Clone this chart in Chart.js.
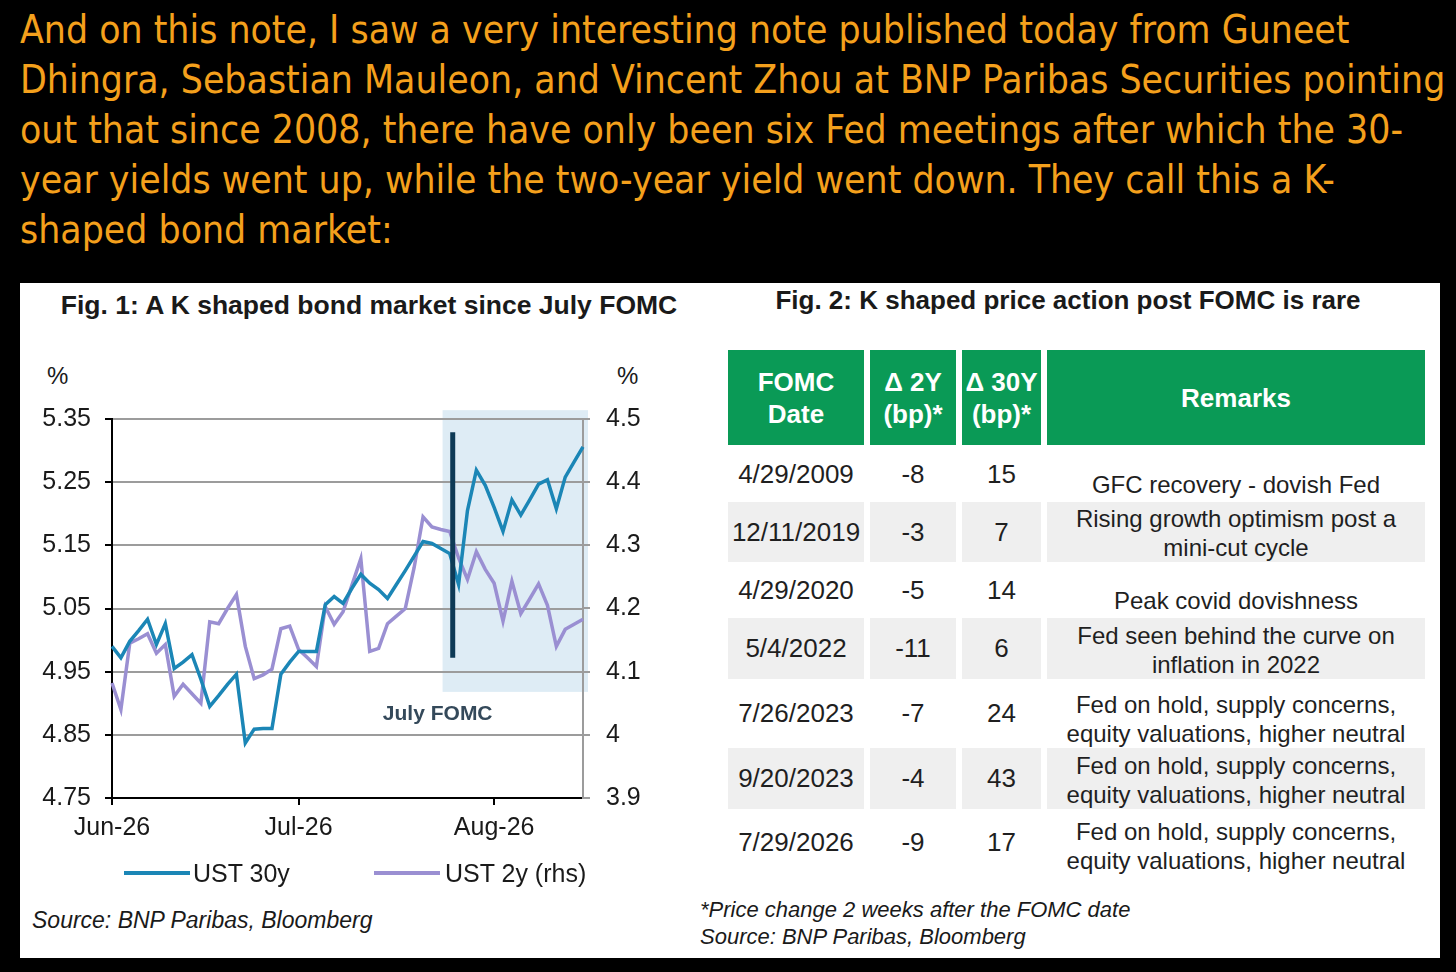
<!DOCTYPE html>
<html>
<head>
<meta charset="utf-8">
<script src="https://cdn.jsdelivr.net/npm/chart.js@4.4.1/dist/chart.umd.min.js"></script>
<style>
html,body{margin:0;padding:0;background:#000;width:1456px;height:972px;overflow:hidden;position:relative;}
#intro{position:absolute;left:20px;top:5px;color:#f4a01c;font-family:"DejaVu Sans Condensed","DejaVu Sans",sans-serif;font-size:36px;line-height:50px;white-space:nowrap;}
#intro span{display:block;}
#panel{position:absolute;left:20px;top:283px;width:1420px;height:675px;background:#fff;}
.t{position:absolute;font-family:"Liberation Sans",Arial,sans-serif;color:#1a1a1a;white-space:nowrap;}
.title{font-weight:bold;font-size:26px;transform:translateX(-50%);}
.cell{position:absolute;font-family:"Liberation Sans",Arial,sans-serif;display:flex;align-items:center;justify-content:center;text-align:center;color:#1f1f1f;box-sizing:border-box;}
.hdr{background:#0a9a56;color:#fff;font-weight:bold;font-size:26px;line-height:32px;}
.num{font-size:26px;}
.rem{font-size:24px;line-height:29px;flex-direction:column;justify-content:flex-end;}
.grey{background:#efefef;}
.leg{position:absolute;height:4px;}
</style>
</head>
<body>
<div id="intro">
<span id="l1">And on this note, I saw a very interesting note published today from Guneet</span>
<span>Dhingra, Sebastian Mauleon, and Vincent Zhou at BNP Paribas Securities pointing</span>
<span>out that since 2008, there have only been six Fed meetings after which the 30-</span>
<span>year yields went up, while the two-year yield went down. They call this a K-</span>
<span>shaped bond market:</span>
</div>
<div id="panel"></div>

<div class="t title" style="left:369px;top:290px;font-size:26.5px;">Fig. 1: A K shaped bond market since July FOMC</div>
<div class="t" style="left:47px;top:362px;font-size:24px;">%</div>
<div class="t" style="left:617px;top:362px;font-size:24px;">%</div>

<canvas id="c" width="660" height="530" style="position:absolute;left:20px;top:330px;width:660px;height:530px;"></canvas>

<div class="leg" style="left:124px;top:871px;width:66px;background:#1b86b6;"></div>
<div class="t" style="left:193px;top:859px;font-size:25px;">UST 30y</div>
<div class="leg" style="left:374px;top:871px;width:66px;background:#9a8fd2;"></div>
<div class="t" style="left:445px;top:859px;font-size:25px;">UST 2y (rhs)</div>
<div class="t" style="left:32px;top:907px;font-size:23px;font-style:italic;">Source: BNP Paribas, Bloomberg</div>

<div class="t title" style="left:1068px;top:285px;">Fig. 2: K shaped price action post FOMC is rare</div>
<div id="table"></div>
<div class="t" style="left:700px;top:896px;font-size:22px;font-style:italic;line-height:27px;">*Price change 2 weeks after the FOMC date<br>Source: BNP Paribas, Bloomberg</div>

<script>
// ---------------- Fig. 1 data ----------------
const tradeDates = [
  '2026-06-01','2026-06-02','2026-06-03','2026-06-04','2026-06-05','2026-06-08','2026-06-09','2026-06-10','2026-06-11','2026-06-12',
  '2026-06-15','2026-06-16','2026-06-17','2026-06-18','2026-06-22','2026-06-23','2026-06-24','2026-06-25','2026-06-26','2026-06-29',
  '2026-06-30','2026-07-01','2026-07-02','2026-07-06','2026-07-07','2026-07-08','2026-07-09','2026-07-10','2026-07-13','2026-07-14',
  '2026-07-15','2026-07-16','2026-07-17','2026-07-20','2026-07-21','2026-07-22','2026-07-23','2026-07-24','2026-07-27','2026-07-28',
  '2026-07-29','2026-07-30','2026-07-31','2026-08-03','2026-08-04','2026-08-05','2026-08-06','2026-08-07','2026-08-10','2026-08-11',
  '2026-08-12','2026-08-13','2026-08-14','2026-08-17'
];
const ust30y = [
  4.990,4.972,4.998,5.015,5.033,4.993,5.026,4.955,4.965,4.977,
  4.938,4.895,4.912,4.930,4.946,4.837,4.859,4.860,4.860,4.946,
  4.965,4.982,4.982,4.982,5.056,5.069,5.058,5.082,5.104,5.090,
  5.080,5.066,5.088,5.110,5.133,5.156,5.153,5.145,5.137,5.088,
  5.205,5.269,5.245,5.210,5.172,5.222,5.198,5.222,5.247,5.254,
  5.208,5.258,5.282,5.306
];
const ust2y = [
  4.082,4.040,4.145,4.152,4.160,4.129,4.143,4.061,4.080,4.065,
  4.050,4.179,4.176,4.200,4.222,4.140,4.089,4.095,4.104,4.168,
  4.172,4.135,4.122,4.108,4.203,4.175,4.195,4.237,4.279,4.132,
  4.137,4.176,4.188,4.200,4.265,4.345,4.329,4.325,4.322,4.280,
  4.246,4.290,4.262,4.240,4.180,4.243,4.192,4.215,4.239,4.205,
  4.140,4.167,4.175,4.183
];
const monthTickIdx = [0, 21, 43];
const monthTickLabels = ['Jun-26', 'Jul-26', 'Aug-26'];
const leftRange = [4.75, 5.35];   // lhs axis min / max
const rightRange = [3.9, 4.5];    // rhs axis min / max

// ---------------- Fig. 2 data ----------------
const fomcDates = ['4/29/2009','12/11/2019','4/29/2020','5/4/2022','7/26/2023','9/20/2023','7/29/2026'];
const chg2y = [-8,-3,-5,-11,-7,-4,-9];
const chg30y = [15,7,14,6,24,43,17];
const remarks = [
  ['GFC recovery - dovish Fed'],
  ['Rising growth optimism post a','mini-cut cycle'],
  ['Peak covid dovishness'],
  ['Fed seen behind the curve on','inflation in 2022'],
  ['Fed on hold, supply concerns,','equity valuations, higher neutral'],
  ['Fed on hold, supply concerns,','equity valuations, higher neutral'],
  ['Fed on hold, supply concerns,','equity valuations, higher neutral']
];

// ---------------- intro text fit ----------------
(function(){
  const l1 = document.getElementById('l1');
  const r = document.createRange(); r.selectNodeContents(l1);
  const w = r.getBoundingClientRect().width;
  const fs = 36 * 1330 / w;
  document.getElementById('intro').style.fontSize = fs.toFixed(2) + 'px';
})();

// ---------------- table ----------------
(function(){
  const cols = [{x:728,w:136},{x:870,w:86},{x:962,w:79},{x:1047,w:378}];
  const rowTop = [447,502,563,618,679,748,809];
  const rowH = [55,60,55,61,69,61,66];
  const t = document.getElementById('table');
  const hdr = ['FOMC<br>Date','&Delta; 2Y<br>(bp)*','&Delta; 30Y<br>(bp)*','Remarks'];
  hdr.forEach((h,i)=>{
    const d = document.createElement('div');
    d.className = 'cell hdr';
    d.style.cssText = `left:${cols[i].x}px;top:350px;width:${cols[i].w}px;height:95px;`;
    d.innerHTML = h;
    t.appendChild(d);
  });
  fomcDates.forEach((dt,r)=>{
    const vals = [dt, String(chg2y[r]), String(chg30y[r])];
    for (let i=0;i<4;i++){
      const d = document.createElement('div');
      d.className = 'cell ' + (i<3 ? 'num' : 'rem') + (r%2===1 ? ' grey' : '');
      d.style.cssText = `left:${cols[i].x}px;top:${rowTop[r]}px;width:${cols[i].w}px;height:${rowH[r]}px;`;
      if (i<3) d.textContent = vals[i];
      else {
        d.innerHTML = remarks[r].map(s=>`<div style="white-space:nowrap">${s}</div>`).join('');
        if (remarks[r].length === 1) d.style.paddingBottom = '3px';
      }
      t.appendChild(d);
    }
  });
})();

// ---------------- chart ----------------
const FONT = "'Liberation Sans', Arial, sans-serif";
Chart.defaults.font.family = FONT;
Chart.defaults.color = '#1a1a1a';

const shadeFrom = 37.2, fomcAt = 38.34, labelAt = 36.65;

const annot = {
  id: 'annot',
  beforeDraw(c){
    const {ctx, chartArea, scales:{x, y1}} = c;
    const x0 = x.getPixelForValue(shadeFrom);
    const yt = y1.getPixelForValue(4.514);
    const yb = y1.getPixelForValue(4.068);
    ctx.save();
    ctx.fillStyle = '#deecf5';
    ctx.fillRect(x0, yt, chartArea.right + 5 - x0, yb - yt);
    ctx.restore();
  },
  afterDatasetsDraw(c){
    const {ctx, scales:{x, y, y1}} = c;
    const xp = x.getPixelForValue(fomcAt);
    ctx.save();
    ctx.strokeStyle = '#0e3a56';
    ctx.lineWidth = 5;
    ctx.beginPath();
    ctx.moveTo(xp, y1.getPixelForValue(4.479));
    ctx.lineTo(xp, y1.getPixelForValue(4.122));
    ctx.stroke();
    ctx.fillStyle = '#34495a';
    ctx.font = "bold 21px " + FONT;
    ctx.textAlign = 'center';
    ctx.textBaseline = 'middle';
    ctx.fillText('July FOMC', x.getPixelForValue(labelAt), y.getPixelForValue(4.883));
    ctx.restore();
  }
};

const canvas = document.getElementById('c');
const chart = new Chart(canvas, {
  type: 'line',
  data: {
    labels: tradeDates,
    datasets: [
      {label:'UST 30y', data:ust30y, yAxisID:'y', borderColor:'#1b86b6', backgroundColor:'#1b86b6', borderWidth:3.5, pointRadius:0, tension:0},
      {label:'UST 2y (rhs)', data:ust2y, yAxisID:'y1', borderColor:'#9a8fd2', backgroundColor:'#9a8fd2', borderWidth:3.5, pointRadius:0, tension:0}
    ]
  },
  options: {
    responsive:false, animation:false, devicePixelRatio:1,
    layout:{padding:{top:89,left:0,right:0,bottom:0}},
    plugins:{legend:{display:false}, tooltip:{enabled:false}},
    scales:{
      x:{
        type:'category', offset:false,
        grid:{drawOnChartArea:false, lineWidth:2, tickLength:7,
          color:(ctx)=> monthTickIdx.includes(ctx.index) ? '#000' : 'rgba(0,0,0,0)',
          tickColor:(ctx)=> monthTickIdx.includes(ctx.index) ? '#000' : 'rgba(0,0,0,0)'},
        border:{color:'#000', width:2},
        ticks:{autoSkip:false, maxRotation:0, padding:8, font:{size:25}, color:'#1a1a1a',
          callback:(v,i)=>{ const k = monthTickIdx.indexOf(i); return k>=0 ? monthTickLabels[k] : ''; }},
        afterFit:(s)=>{ s.height = 62; }
      },
      y:{
        position:'left', min:leftRange[0], max:leftRange[1],
        ticks:{stepSize:0.1, padding:14, font:{size:25}, color:'#1a1a1a', callback:(v)=>Number(v).toFixed(2)},
        grid:{color:'#9c9c9c', lineWidth:2, tickColor:'#000', tickLength:7},
        border:{color:'#000', width:2},
        afterFit:(s)=>{ s.width = 92; }
      },
      y1:{
        position:'right', min:rightRange[0], max:rightRange[1],
        ticks:{stepSize:0.1, padding:16, font:{size:25}, color:'#1a1a1a', callback:(v)=>String(Number(Number(v).toFixed(1)))},
        grid:{drawOnChartArea:false, color:'#9c9c9c', lineWidth:2, tickColor:'#9c9c9c', tickLength:7},
        border:{color:'#9c9c9c', width:2},
        afterFit:(s)=>{ s.width = 97; }
      }
    }
  },
  plugins:[annot]
});

// align plot area to target frame (left 112, top 419, height 379)
(function(){
  let a = chart.chartArea;
  const dh = (a.bottom - a.top) - 379;
  if (Math.abs(dh) > 0.5) {
    chart.options.layout.padding.top = 89 + dh;
    chart.update();
    a = chart.chartArea;
  }
  canvas.style.left = (112 - a.left) + 'px';
  canvas.style.top = (419 - a.top) + 'px';
})();
</script>
</body>
</html>
